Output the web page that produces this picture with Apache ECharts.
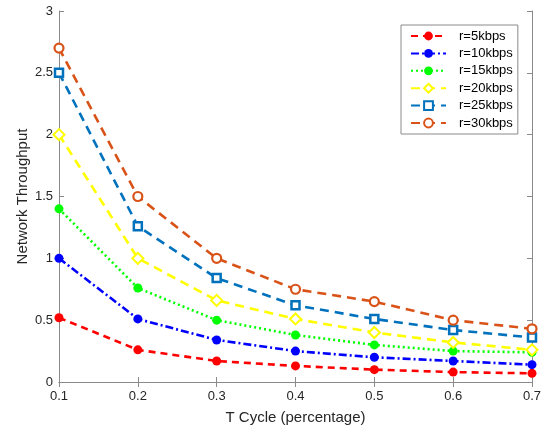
<!DOCTYPE html>
<html>
<head>
<meta charset="utf-8">
<script src="https://cdn.jsdelivr.net/npm/echarts@6/dist/echarts.min.js"></script>
<style>
html,body{margin:0;padding:0;background:#fff;}
#chart{width:546px;height:431px;}
</style>
</head>
<body>
<div id="chart"></div>
<script>
const xValues = [0.1, 0.2, 0.3, 0.4, 0.5, 0.6, 0.7];
const r5  = [0.52, 0.26, 0.17, 0.13, 0.10, 0.08, 0.07];
const r10 = [1.00, 0.51, 0.34, 0.25, 0.20, 0.17, 0.14];
const r15 = [1.40, 0.76, 0.50, 0.38, 0.30, 0.25, 0.24];
const r20 = [2.00, 1.00, 0.66, 0.51, 0.40, 0.32, 0.26];
const r25 = [2.50, 1.26, 0.84, 0.62, 0.51, 0.42, 0.36];
const r30 = [2.70, 1.50, 1.00, 0.75, 0.65, 0.50, 0.43];
const seriesNames = ['r=5kbps','r=10kbps','r=15kbps','r=20kbps','r=25kbps','r=30kbps'];
const xTicks = ['0.1','0.2','0.3','0.4','0.5','0.6','0.7'];
const yTicks = ['0','0.5','1','1.5','2','2.5','3'];

const pair = arr => arr.map((v,i)=>[xValues[i], v]);
const font = 'Liberation Sans, Arial, sans-serif';
const axisColor = '#8a8a8a';
const textColor = '#262626';

function mk(name, data, color, lineType, symbol, size, fill, bw){
  return {
    name, type:'line', data: pair(data), symbol, symbolSize:size,
    showSymbol:true,
    lineStyle:{color, width:2.6, type:lineType},
    itemStyle:{color: fill, borderColor: color, borderWidth: bw},
    emphasis:{disabled:true},
    z: 3
  };
}

const chart = echarts.init(document.getElementById('chart'), null, {renderer:'canvas'});
chart.setOption({
  animation:false,
  backgroundColor:'#fff',
  grid:{left:59, right:14, top:11, bottom:49},
  legend:{
    orient:'vertical', left:401, top:25,
    padding:[4,5,4,9], itemGap:3.4, itemWidth:35, itemHeight:11,
    borderColor:'#8a8a8a', borderWidth:1, backgroundColor:'#fff',
    textStyle:{fontFamily:font, fontSize:13, color:'#000', padding:[0,0,0,8], lineHeight:14},
    data: seriesNames
  },
  xAxis:[{
    type:'value', min:0.1, max:0.7, interval:0.1,
    name:'T Cycle (percentage)', nameLocation:'middle', nameGap:28, nameMoveOverlap:false,
    nameTextStyle:{fontFamily:font, fontSize:15, color:textColor},
    axisLine:{show:true, onZero:false, lineStyle:{color:axisColor, width:1}},
    axisTick:{show:true, inside:true, length:5, lineStyle:{color:axisColor}},
    axisLabel:{fontFamily:font, fontSize:13, color:textColor, margin:8,
      formatter:(v)=>{const i=Math.round((v-0.1)/0.1); return xTicks[i]||'';}},
    splitLine:{show:false}
  },{
    type:'value', position:'top', min:0.1, max:0.7, interval:0.1,
    axisLine:{show:true, lineStyle:{color:axisColor, width:1}},
    axisTick:{show:true, inside:true, length:5, lineStyle:{color:axisColor}},
    axisLabel:{show:false}, splitLine:{show:false}
  }],
  yAxis:[{
    type:'value', min:0, max:3, interval:0.5,
    name:'Network Throughput', nameLocation:'middle', nameGap:29, nameMoveOverlap:false,
    nameTextStyle:{fontFamily:font, fontSize:15, color:textColor},
    axisLine:{show:true, onZero:false, lineStyle:{color:axisColor, width:1}},
    axisTick:{show:true, inside:true, length:5, lineStyle:{color:axisColor}},
    axisLabel:{fontFamily:font, fontSize:13, color:textColor, margin:6,
      formatter:(v)=>{const i=Math.round(v/0.5); return yTicks[i]||'';}},
    splitLine:{show:false}
  },{
    type:'value', position:'right', min:0, max:3, interval:0.5,
    axisLine:{show:true, lineStyle:{color:axisColor, width:1}},
    axisTick:{show:true, inside:true, length:5, lineStyle:{color:axisColor}},
    axisLabel:{show:false}, splitLine:{show:false}
  }],
  series:[
    mk(seriesNames[0], r5,  '#ff0000', [7,5], 'circle', 9, '#ff0000', 0),
    mk(seriesNames[1], r10, '#0000ff', [8,3,2,3], 'circle', 9, '#0000ff', 0),
    mk(seriesNames[2], r15, '#00ff00', [2,3], 'circle', 9, '#00ff00', 0),
    mk(seriesNames[3], r20, '#ffff00', [9,6], 'diamond', 11, '#ffffff', 2),
    mk(seriesNames[4], r25, '#0072bd', [9,6], 'rect', 8, '#ffffff', 2.5),
    mk(seriesNames[5], r30, '#d95319', [9,6], 'circle', 9, '#ffffff', 2.2)
  ]
});
</script>
</body>
</html>
